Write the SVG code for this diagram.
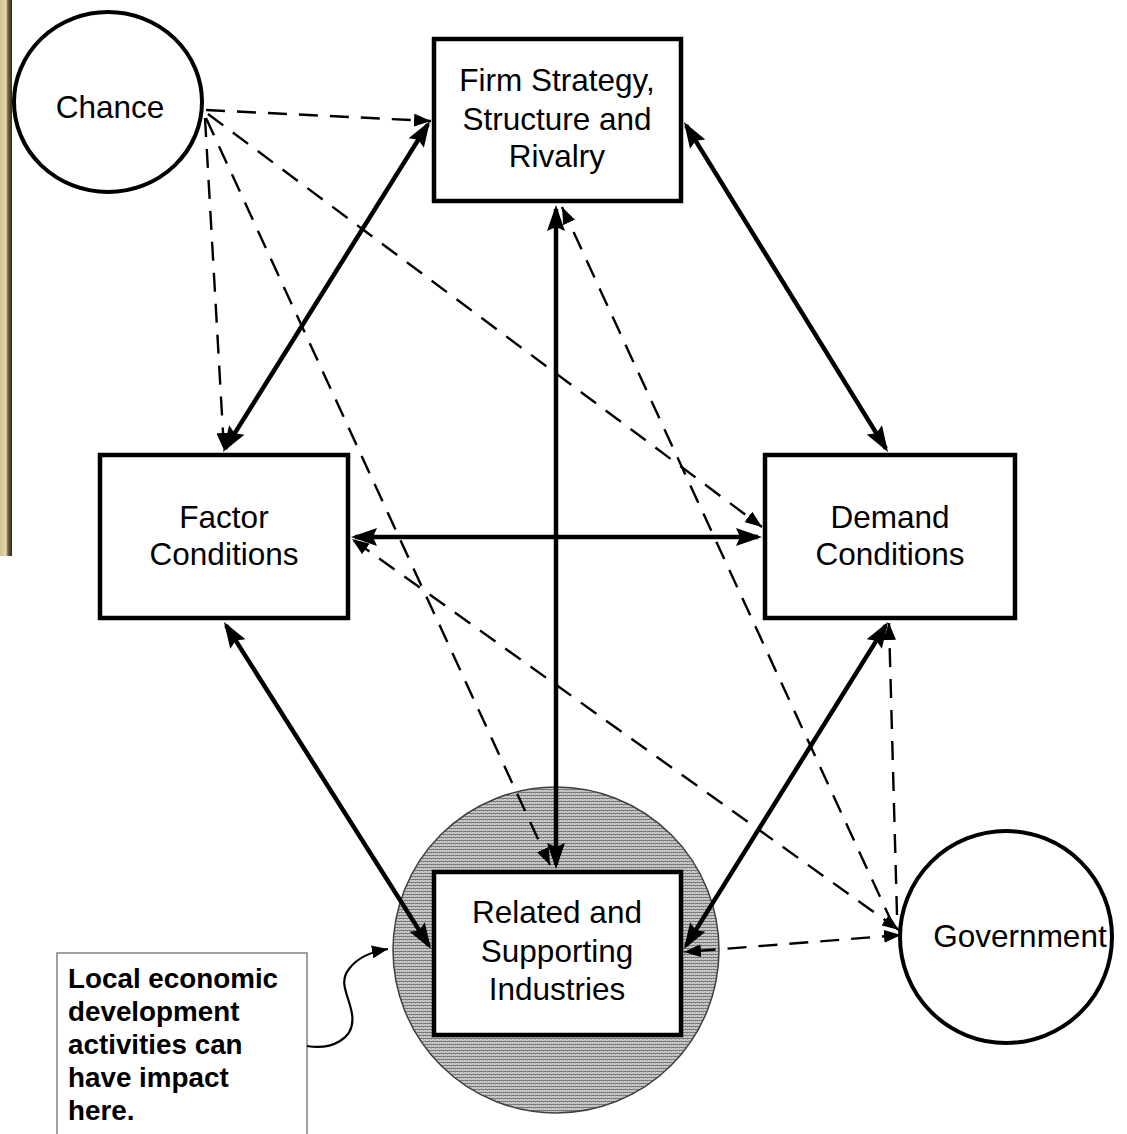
<svg xmlns="http://www.w3.org/2000/svg" width="1127" height="1134" viewBox="0 0 1127 1134">
<defs>
<style>
.box{fill:#fff;stroke:#000;stroke-width:4.5}
.circ{fill:#fff;stroke:#000;stroke-width:4}
.lbl{font-family:"Liberation Sans",Arial,sans-serif;font-size:31.5px;fill:#000;text-anchor:middle}
.note{font-family:"Liberation Sans",Arial,sans-serif;font-size:27.8px;font-weight:bold;fill:#000}
.solid{stroke:#000;stroke-width:4.5;fill:none;marker-start:url(#ah);marker-end:url(#ah)}
.dash{stroke:#000;stroke-width:2.4;fill:none;stroke-dasharray:19 12;marker-end:url(#dh)}
</style>
<linearGradient id="edge" x1="0" y1="0" x2="1" y2="0">
<stop offset="0" stop-color="#cfc08e"/>
<stop offset="0.5" stop-color="#e6d9ad"/>
<stop offset="0.65" stop-color="#7a6a48"/>
<stop offset="1" stop-color="#2a2418"/>
</linearGradient>
<pattern id="hatch" width="4" height="3" patternUnits="userSpaceOnUse">
<rect width="4" height="3" fill="#cbcdcf"/>
<rect y="0" width="4" height="1" fill="#7a7a7a"/>
<rect x="1" y="2" width="1" height="1" fill="#95a6ba"/>
<rect x="3" y="1" width="1" height="1" fill="#aca690"/>
</pattern>
<marker id="ah" viewBox="0 0 26 18" refX="22" refY="9" markerWidth="26" markerHeight="18" markerUnits="userSpaceOnUse" orient="auto-start-reverse" overflow="visible">
<path d="M0,0 L26,9 L0,18 L4,9 z" fill="#000"/>
</marker>
<marker id="dh" viewBox="0 0 17 13" refX="17" refY="6.5" markerWidth="17" markerHeight="13" markerUnits="userSpaceOnUse" orient="auto-start-reverse">
<path d="M0,0 L17,6.5 L0,13 z" fill="#000"/>
</marker>
<marker id="ch" viewBox="0 0 16 13" refX="16" refY="6.5" markerWidth="16" markerHeight="13" markerUnits="userSpaceOnUse" orient="auto">
<path d="M0,0 L16,6.5 L0,13 z" fill="#000"/>
</marker>
</defs>
<rect x="0" y="0" width="1127" height="1134" fill="#fff"/>
<rect x="0" y="0" width="12" height="556" fill="url(#edge)"/>

<g id="related-zone">
<circle cx="556" cy="950" r="163" fill="url(#hatch)" stroke="#404040" stroke-width="1.5"/>
</g>

<g id="chance">
<ellipse class="circ" cx="108" cy="102" rx="94" ry="90"/>
<text class="lbl" x="110" y="118">Chance</text>
</g>

<g id="firm">
<rect class="box" x="434" y="39" width="247" height="162"/>
<text class="lbl" x="557" y="91">Firm Strategy,</text>
<text class="lbl" x="557" y="130">Structure and</text>
<text class="lbl" x="557" y="167">Rivalry</text>
</g>

<g id="factor">
<rect class="box" x="100" y="455" width="248" height="163"/>
<text class="lbl" x="224" y="528">Factor</text>
<text class="lbl" x="224" y="565">Conditions</text>
</g>

<g id="demand">
<rect class="box" x="765" y="455" width="250" height="163"/>
<text class="lbl" x="890" y="528">Demand</text>
<text class="lbl" x="890" y="565">Conditions</text>
</g>

<g id="related">
<rect class="box" x="434" y="872" width="247" height="163"/>
<text class="lbl" x="557" y="923">Related and</text>
<text class="lbl" x="557" y="962">Supporting</text>
<text class="lbl" x="557" y="1000">Industries</text>
</g>

<g id="government">
<circle class="circ" cx="1006" cy="937" r="106"/>
<text class="lbl" x="1020" y="947">Government</text>
</g>

<g id="note">
<rect x="57" y="953" width="250" height="200" fill="#fff" stroke="#808080" stroke-width="1.5"/>
<text class="note" x="68" y="988">Local economic</text>
<text class="note" x="68" y="1021">development</text>
<text class="note" x="68" y="1054">activities can</text>
<text class="note" x="68" y="1087">have impact</text>
<text class="note" x="68" y="1120">here.</text>
</g>

<g id="connectors">
<line class="dash" x1="206" y1="110" x2="431" y2="121"/>
<line class="dash" x1="205" y1="118" x2="224" y2="450"/>
<line class="dash" x1="206" y1="118" x2="550" y2="865"/>
<line class="dash" x1="208" y1="114" x2="762" y2="527"/>
<line class="dash" x1="893" y1="925" x2="562" y2="207"/>
<line class="dash" x1="899" y1="930" x2="352" y2="539" style="marker-start:url(#dh)"/>
<line class="dash" x1="897" y1="915" x2="889" y2="623"/>
<line class="dash" x1="901" y1="935" x2="684" y2="952" style="marker-start:url(#dh)"/>

<line class="solid" x1="427.9" y1="124.4" x2="225.1" y2="448.6"/>
<line class="solid" x1="686.1" y1="125.4" x2="885.9" y2="448.6"/>
<line class="solid" x1="556" y1="209" x2="556" y2="865"/>
<line class="solid" x1="355" y1="537" x2="758" y2="537"/>
<line class="solid" x1="226.1" y1="625.4" x2="428.9" y2="945.6"/>
<line class="solid" x1="885.9" y1="625.4" x2="686.1" y2="945.6"/>

<path d="M307,1046 C330,1050 356,1040 352,1014 C349,995 338,983 349,969 C358,957 371,952 388,949" stroke="#000" stroke-width="2.2" fill="none" marker-end="url(#ch)"/>
</g>
</svg>
